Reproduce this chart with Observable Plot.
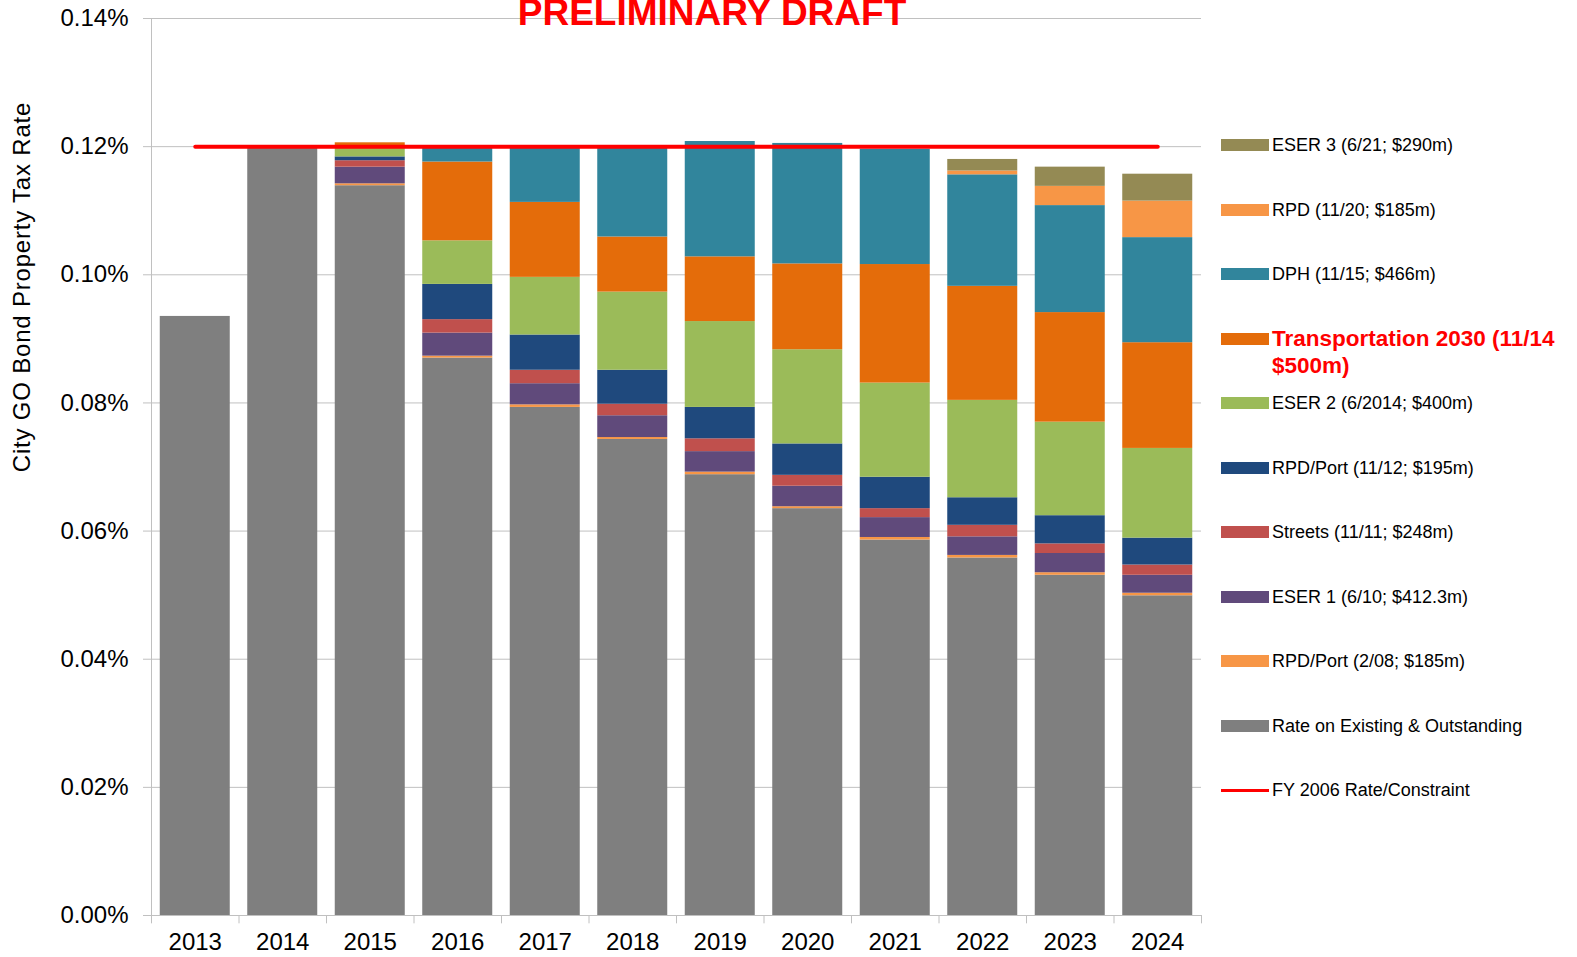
<!DOCTYPE html>
<html>
<head>
<meta charset="utf-8">
<script src="https://cdn.jsdelivr.net/npm/d3@7"></script>
<script src="https://cdn.jsdelivr.net/npm/@observablehq/plot@0.6"></script>
<style>
html, body { margin: 0; padding: 0; background: #fff; overflow: hidden; }
#wrap { position: relative; width: 1577px; height: 957px; overflow: hidden; font-family: Arial, "Liberation Sans", sans-serif; }
#chart { position: absolute; left: 0; top: 0; }
#title { position: absolute; left: 712px; top: -6px; transform: translateX(-50%); white-space: nowrap;
  color: #ff0000; font-weight: bold; font-size: 37px; line-height: 37px; letter-spacing: 0px; }
#ylabel { position: absolute; left: 22px; top: 287px; transform: translate(-50%, -50%) rotate(-90deg);
  white-space: nowrap; font-size: 24px; line-height: 26px; letter-spacing: 0.8px; color: #000; }
.lg { position: absolute; left: 1221px; height: 26px; white-space: nowrap; }
.lg .sw { position: absolute; left: 0; top: 7px; width: 48px; height: 12px; }
.lg .sw.line { top: 12px; height: 3px; }
.lg .tx { position: absolute; left: 51px; top: 0; font-size: 18px; line-height: 26px; color: #000; }
.lg .tx.hl { color: #ff0000; font-weight: bold; font-size: 22.5px; line-height: 27px; top: -1px; }
</style>
</head>
<body>
<div id="wrap">
  <div id="chart"></div>
  <div id="title">PRELIMINARY DRAFT</div>
  <div id="ylabel">City GO Bond Property Tax Rate</div>
</div>
<script>
// ---- data (values in percent) ----
const years = ["2013","2014","2015","2016","2017","2018","2019","2020","2021","2022","2023","2024"];
const existing  = [0.0935, 0.1199, 0.1139, 0.0870, 0.0793, 0.0743, 0.0688, 0.0635, 0.0586, 0.0558, 0.0531, 0.0499];
const rpdPort08 = [0, 0, 0.0003, 0.0003, 0.0004, 0.0003, 0.0004, 0.0003, 0.0004, 0.0004, 0.0004, 0.0004];
const eser1     = [0, 0, 0.0026, 0.0036, 0.0033, 0.0034, 0.0032, 0.0032, 0.0031, 0.0029, 0.0030, 0.0028];
const streets   = [0, 0, 0.0010, 0.0021, 0.0021, 0.0018, 0.0020, 0.0017, 0.0014, 0.0018, 0.0015, 0.0016];
const rpdPort12 = [0, 0, 0.0006, 0.0055, 0.0055, 0.0053, 0.0049, 0.0049, 0.0049, 0.0043, 0.0044, 0.0042];
const eser2     = [0, 0, 0.0015, 0.0068, 0.0090, 0.0122, 0.0134, 0.0147, 0.0147, 0.0152, 0.0146, 0.0140];
const transport = [0, 0, 0.0007, 0.0123, 0.0117, 0.0086, 0.0101, 0.0134, 0.0185, 0.0178, 0.0171, 0.0165];
const dph       = [0, 0, 0, 0.0023, 0.0087, 0.0140, 0.0180, 0.0188, 0.0180, 0.0174, 0.0167, 0.0164];
const rpd20     = [0, 0, 0, 0, 0, 0, 0, 0, 0, 0.0006, 0.0030, 0.0057];
const eser3     = [0, 0, 0, 0, 0, 0, 0, 0, 0, 0.0018, 0.0030, 0.0042];
const constraintRate = 0.12;
const yTicks = [0, 0.02, 0.04, 0.06, 0.08, 0.10, 0.12, 0.14];

const seriesNames = [
  "Rate on Existing & Outstanding",
  "RPD/Port (2/08; $185m)",
  "ESER 1 (6/10; $412.3m)",
  "Streets (11/11; $248m)",
  "RPD/Port (11/12; $195m)",
  "ESER 2 (6/2014; $400m)",
  "Transportation 2030 (11/14 $500m)",
  "DPH (11/15; $466m)",
  "RPD (11/20; $185m)",
  "ESER 3 (6/21; $290m)"
];
const seriesValues = [existing, rpdPort08, eser1, streets, rpdPort12, eser2, transport, dph, rpd20, eser3];
const seriesColors = ["#7f7f7f", "#f79646", "#604a7b", "#c0504d", "#1f497d", "#9bbb59", "#e46c0a", "#31859c", "#f79646", "#948a54"];
const lineName = "FY 2006 Rate/Constraint";
const lineColor = "#ff0000";

// ---- table for Plot ----
const rows = [];
seriesNames.forEach((name, s) => {
  years.forEach((yr, i) => {
    const v = seriesValues[s][i];
    if (v > 0) rows.push({year: yr, series: name, value: v});
  });
});
const constraint = years.map(yr => ({year: yr, value: constraintRate}));

const W = 1577, H = 957, mL = 151, mR = 376, mT = 18, mB = 42;
const step = (W - mL - mR) / years.length;
const gridColor = "#c0c0c0";

const chart = Plot.plot({
  width: W, height: H,
  marginLeft: mL, marginRight: mR, marginTop: mT, marginBottom: mB,
  style: {fontFamily: 'Arial, "Liberation Sans", sans-serif', background: "#fff", color: "#000"},
  x: {type: "band", domain: years, paddingInner: 0.2, paddingOuter: 0.1, round: false},
  y: {domain: [0, 0.14]},
  color: {domain: seriesNames, range: seriesColors},
  marks: [
    Plot.gridY(yTicks, {stroke: gridColor, strokeOpacity: 1}),
    Plot.axisY({ticks: yTicks, tickFormat: d => d.toFixed(2) + "%", tickSize: 8, tickPadding: 15,
      fontSize: 24, label: null, stroke: gridColor, strokeOpacity: 1, fill: "#000"}),
    Plot.axisX({tickSize: 0, tickPadding: 17, fontSize: 24, label: null, fill: "#000"}),
    Plot.ruleX([years[0]], {x: d => d, dx: -step / 2, y1: 0, y2: 0.14, stroke: gridColor}),
    Plot.ruleX(years, {x: d => d, dx: -step / 2, y1: 0, y2: -0.0013, stroke: gridColor}),
    Plot.ruleX([years[years.length - 1]], {x: d => d, dx: step / 2, y1: 0, y2: -0.0013, stroke: gridColor}),
    Plot.barY(rows, {x: "year", y: "value", fill: "series"}),
    Plot.lineY(constraint, {x: "year", y: "value", stroke: lineColor, strokeWidth: 4, strokeLinecap: "round"})
  ]
});
document.getElementById("chart").appendChild(chart);

// ---- legend (top to bottom = reverse stack order, then the line) ----
const wrap = document.getElementById("wrap");
const legendItems = seriesNames.map((n, i) => ({name: n, color: seriesColors[i], kind: "rect"})).reverse();
legendItems.push({name: lineName, color: lineColor, kind: "line"});
const legendTop = 145, legendStep = 64.5;
legendItems.forEach((it, i) => {
  const row = document.createElement("div");
  row.className = "lg";
  row.style.top = (legendTop + i * legendStep - 13) + "px";
  const sw = document.createElement("div");
  sw.className = "sw" + (it.kind === "line" ? " line" : "");
  sw.style.background = it.color;
  row.appendChild(sw);
  const tx = document.createElement("div");
  tx.className = "tx";
  if (it.name.startsWith("Transportation")) {
    tx.className += " hl";
    tx.innerHTML = "Transportation 2030 (11/14<br>$500m)";
  } else {
    tx.textContent = it.name;
  }
  row.appendChild(tx);
  wrap.appendChild(row);
});
</script>
</body>
</html>
